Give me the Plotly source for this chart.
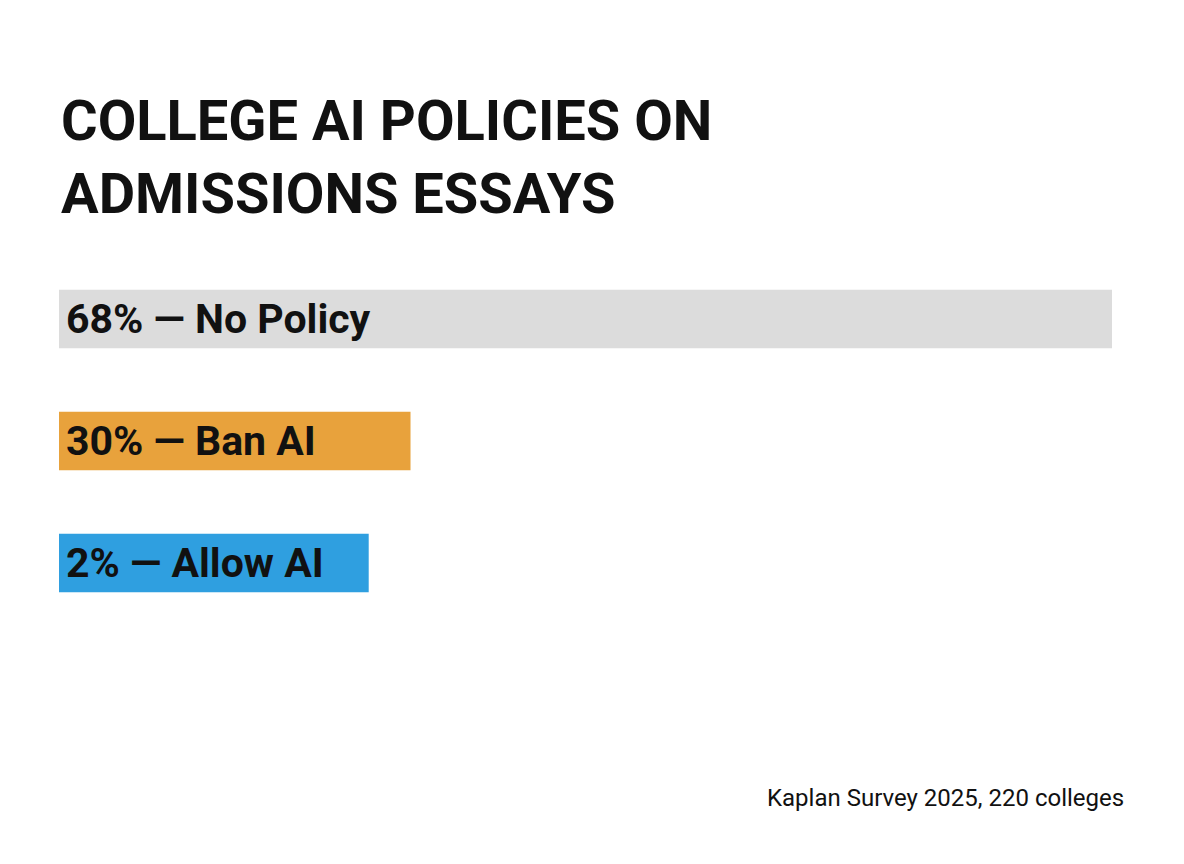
import plotly.graph_objects as go

categories = ["No Policy", "Ban AI", "Allow AI"]
values = [68, 30, 2]
# bar extents as drawn in the reference (not proportional to the share)
display_length = [68, 22.7, 20.0]
colors = ["#dcdcdc", "#e8a23c", "#2f9fe0"]
title_lines = ["COLLEGE AI POLICIES ON", "ADMISSIONS ESSAYS"]
source = "Kaplan Survey 2025, 220 colleges"

fig = go.Figure(go.Bar(
    x=display_length, y=categories, orientation="h",
    marker=dict(color=colors, line_width=0), width=0.48,
    hoverinfo="skip",
))
for c, v in zip(categories, values):
    fig.add_annotation(x=0, y=c, xref="x", yref="y", text=f"<b>{v}% — {c}</b>",
                       showarrow=False, xanchor="left", xshift=5,
                       font=dict(family="Roboto", size=41, color="#111"))
fig.add_annotation(x=0.0, y=1 + (250 - 150) / 366, xref="paper", yref="paper",
                   text="<b>" + "<br>".join(title_lines) + "</b>",
                   showarrow=False, xanchor="left", yanchor="middle", align="left",
                   font=dict(family="Roboto", size=56, color="#111"))
fig.add_annotation(x=1, y=-(790 - 616) / 366, xref="paper", yref="paper",
                   text=source, showarrow=False, xanchor="right", yanchor="middle",
                   xshift=14, font=dict(family="Roboto", size=24, color="#111"))
fig.update_layout(
    width=1184, height=864, margin=dict(l=51, r=80, t=250, b=248),
    paper_bgcolor="white", plot_bgcolor="white", showlegend=False,
    xaxis=dict(range=[0, 68], visible=False),
    yaxis=dict(categoryorder="array", categoryarray=categories[::-1],
               range=[-0.5, 2.5], visible=False),
)
fig.write_html("out.html")
